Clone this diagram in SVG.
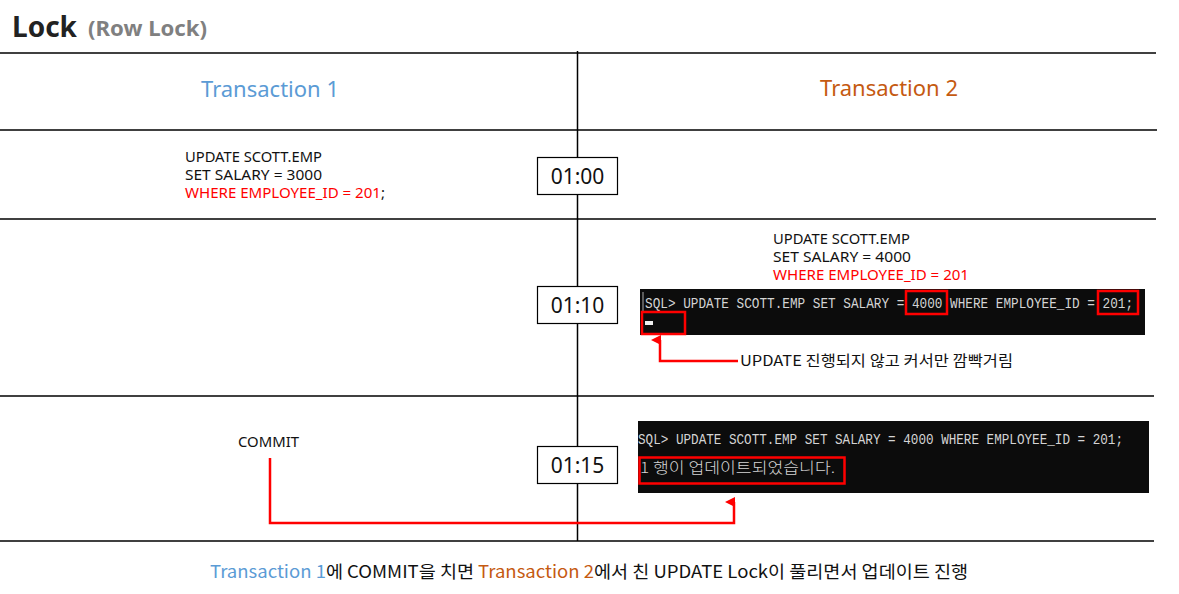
<svg xmlns="http://www.w3.org/2000/svg" width="1179" height="594" viewBox="0 0 1179 594">
<style>
text{font-family:"Noto Sans","Noto Sans CJK KR",sans-serif;}
.ko{font-family:"Noto Sans CJK KR","Noto Sans",sans-serif;}
.grid{stroke:#000;stroke-width:1.5;fill:none}
.sql{font-size:14.5px;fill:#111}
.red{fill:#ff0000}
.t1{fill:#5b9bd5}
.t2{fill:#c55a11}
.time rect{fill:#fff;stroke:#000;stroke-width:1.2}
.time text{font-size:21px;fill:#111;text-anchor:middle}
.term{fill:#0c0c0c}
.tt{font-family:"Liberation Mono","DejaVu Sans Mono",monospace;font-size:14px;fill:#d4d4d4}
.hl{fill:none;stroke:#ff0000;stroke-width:2.5}
.conn{fill:none;stroke:#ff0000;stroke-width:2.5}
</style>
<defs>
<marker id="ah" viewBox="0 0 10 10" refX="5" refY="9" markerWidth="4" markerHeight="4" orient="auto-start-reverse" markerUnits="strokeWidth">
<path d="M0,10 L5,0 L10,10 Z" fill="#ff0000"/>
</marker>
</defs>
<g id="title">
<text x="12" y="37" font-size="28" font-weight="bold" fill="#222">Lock</text>
<text x="88" y="36" font-size="21" font-weight="bold" fill="#808080" textLength="119" lengthAdjust="spacingAndGlyphs">(Row Lock)</text>
</g>
<g id="grid">
<line x1="0" y1="53" x2="1156" y2="53" stroke="#404040" stroke-width="2"/>
<line class="grid" x1="0" y1="130" x2="1157" y2="130"/>
<line class="grid" x1="0" y1="219" x2="1156" y2="219"/>
<line class="grid" x1="0" y1="396" x2="1154" y2="396"/>
<line class="grid" x1="0" y1="541" x2="1154" y2="541"/>
<line class="grid" x1="577.5" y1="51" x2="577.5" y2="541"/>
</g>
<g id="header1"><text x="270" y="97" font-size="22" text-anchor="middle" class="t1">Transaction 1</text></g>
<g id="header2"><text x="889" y="96" font-size="22" text-anchor="middle" class="t2">Transaction 2</text></g>
<g id="sql1">
<text class="sql" x="185" y="162" textLength="137" lengthAdjust="spacingAndGlyphs">UPDATE SCOTT.EMP</text>
<text class="sql" x="185" y="180" textLength="137" lengthAdjust="spacingAndGlyphs">SET SALARY = 3000</text>
<text class="sql" x="185" y="198" textLength="200" lengthAdjust="spacingAndGlyphs"><tspan class="red">WHERE EMPLOYEE_ID = 201</tspan>;</text>
</g>
<g id="time1" class="time"><rect x="537.5" y="157.5" width="80" height="37"/><text x="577.5" y="184">01:00</text></g>
<g id="sql2">
<text class="sql" x="773" y="244" textLength="137" lengthAdjust="spacingAndGlyphs">UPDATE SCOTT.EMP</text>
<text class="sql" x="773" y="262" textLength="138" lengthAdjust="spacingAndGlyphs">SET SALARY = 4000</text>
<text class="sql red" x="773" y="280" textLength="196" lengthAdjust="spacingAndGlyphs">WHERE EMPLOYEE_ID = 201</text>
</g>
<g id="time2" class="time"><rect x="537.5" y="286.5" width="80" height="37"/><text x="577.5" y="313">01:10</text></g>
<g id="terminal1">
<rect class="term" x="640" y="289" width="505" height="46"/>
<line x1="643" y1="292" x2="643" y2="311" stroke="#aaa" stroke-width="1"/>
<text class="tt" x="645" y="308" textLength="488" lengthAdjust="spacingAndGlyphs">SQL&gt; UPDATE SCOTT.EMP SET SALARY = 4000 WHERE EMPLOYEE_ID = 201;</text>
<rect x="645" y="321" width="8" height="4" fill="#f0f0f0"/>
<rect class="hl" x="906" y="291" width="41" height="23"/>
<rect class="hl" x="1098" y="291" width="40" height="23"/>
<rect class="hl" x="642" y="312" width="43" height="22"/>
</g>
<g id="note1"><text class="ko" x="740" y="366" font-size="14.5" fill="#111" textLength="273" lengthAdjust="spacingAndGlyphs">UPDATE 진행되지 않고 커서만 깜빡거림</text></g>
<g id="commit"><text class="sql" x="238" y="447" textLength="61" lengthAdjust="spacingAndGlyphs">COMMIT</text></g>
<g id="time3" class="time"><rect x="537.5" y="446.5" width="80" height="37"/><text x="577.5" y="473">01:15</text></g>
<g id="terminal2">
<rect class="term" x="638" y="421" width="511" height="72"/>
<text class="tt" x="638" y="444" textLength="485" lengthAdjust="spacingAndGlyphs">SQL&gt; UPDATE SCOTT.EMP SET SALARY = 4000 WHERE EMPLOYEE_ID = 201;</text>
<text class="tt" x="640" y="473" textLength="195" lengthAdjust="spacingAndGlyphs" style="font-family:'Noto Sans CJK KR',monospace;font-weight:300;font-size:15px">1 행이 업데이트되었습니다.</text>
<rect class="hl" x="639.5" y="457.5" width="205" height="26"/>
</g>
<g id="connectors">
<polyline class="conn" points="738,361 660,361 660,340" marker-end="url(#ah)"/>
<polyline class="conn" points="270,458 270,523 734,523 734,502" marker-end="url(#ah)"/>
</g>
<g id="caption">
<text x="210" y="578" font-size="17.5" class="ko" fill="#111" textLength="758" lengthAdjust="spacingAndGlyphs"><tspan class="t1">Transaction 1</tspan>에 COMMIT을 치면 <tspan class="t2">Transaction 2</tspan>에서 친 UPDATE Lock이 풀리면서 업데이트 진행</text>
</g>
</svg>
